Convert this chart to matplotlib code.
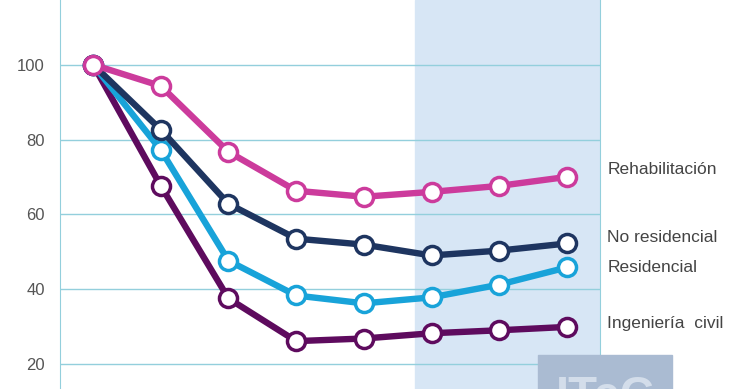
import matplotlib.pyplot as plt
from matplotlib.patches import Rectangle

# valores (índice base 100)
periods = [0, 1, 2, 3, 4, 5, 6, 7]
rehabilitacion = [100, 94.3, 76.7, 66.3, 64.7, 66.0, 67.6, 70.0]
no_residencial = [100, 82.6, 62.8, 53.5, 51.9, 49.0, 50.3, 52.2]
residencial = [100, 77.2, 47.6, 38.3, 36.2, 37.8, 41.2, 45.8]
ing_civil = [100, 67.6, 37.5, 26.1, 26.8, 28.2, 29.0, 29.9]

names = ["Rehabilitación", "No residencial", "Residencial", "Ingeniería  civil"]
label_y = [72.0, 53.9, 45.9, 30.7]
colors = ["#cc3b9c", "#1e3560", "#18a3d9", "#5e0b5e"]
yticks = [20, 40, 60, 80, 100]

plt.rcParams['font.family'] = ['Liberation Sans', 'DejaVu Sans']

fig = plt.figure(figsize=(7.4, 3.89), dpi=100)
ax = fig.add_axes([60 / 740, 0, 540 / 740, 1])
ax.set_xlim(-0.49, 7.49)
ax.set_ylim(13.3, 117.3)

# zona sombreada (previsión)
ax.axvspan(4.76, 7.49, color="#d7e6f5", zorder=0)

for y in yticks + [120]:
    ax.axhline(y, color="#93cfdc", lw=1, zorder=1)

series = [rehabilitacion, no_residencial, residencial, ing_civil]
# se dibuja en orden inverso para que Rehabilitación quede encima
for vals, c in list(zip(series, colors))[::-1]:
    ax.plot(periods, vals, color=c, lw=4.6, marker="o", ms=13,
            mfc="white", mec=c, mew=2.5, zorder=3, solid_capstyle="round")

for name, yv in zip(names, label_y):
    ax.text(7.6, yv, name, fontsize=12.5, color="#444444", va="center",
            ha="left", clip_on=False)

ax.set_yticks(yticks)
ax.set_yticklabels([str(t) for t in yticks], fontsize=12, color="#555555")
ax.set_xticks([])
ax.tick_params(axis="y", length=0, pad=11)
for s in ["top", "bottom"]:
    ax.spines[s].set_visible(False)
ax.spines["left"].set_color("#93cfdc")
ax.spines["right"].set_color("#93cfdc")

# marca de agua ITeC (cortada por el borde, como en el original)
fig.patches.append(Rectangle((538 / 740, 0), 134 / 740, 34 / 389,
                             transform=fig.transFigure, color="#aabbd2",
                             zorder=5))
fig.text(605 / 740, -30 / 389, "ITeC", fontsize=34, fontweight="bold",
         color="#d3ddea", ha="center", va="bottom", zorder=6)

fig.savefig("out.png", dpi=100)
